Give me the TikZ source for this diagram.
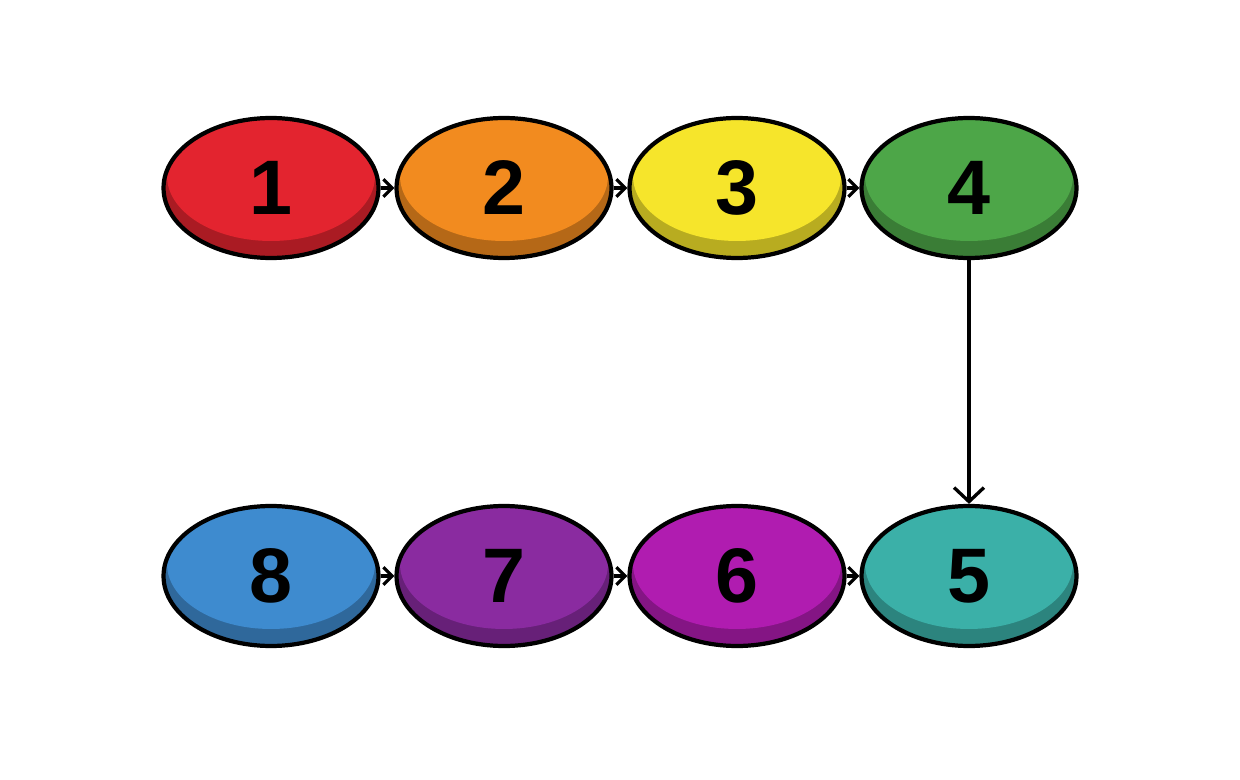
\documentclass[tikz,border=0pt]{standalone}
\usepackage{fontspec}
\setmainfont{Liberation Sans}
\usetikzlibrary{arrows.meta,shapes.geometric}
\definecolor{cred}{HTML}{E3242F}
\definecolor{corange}{HTML}{F28B1F}
\definecolor{cyellow}{HTML}{F6E52B}
\definecolor{cgreen}{HTML}{4DA648}
\definecolor{cteal}{HTML}{3BB0A8}
\definecolor{cmagenta}{HTML}{B01CB0}
\definecolor{cpurple}{HTML}{8A2BA0}
\definecolor{cblue}{HTML}{3E8BCF}
\tikzset{
  oval/.style={ellipse, draw=black, line width=2.4pt, minimum width=4.3cm, minimum height=2.8cm, inner sep=0pt,
    fill=#1!75!black,
    path picture={\fill[#1] ([yshift=0.24cm]path picture bounding box.center) ellipse [x radius=2.08cm, y radius=1.3cm];},
    font=\fontsize{44}{44}\selectfont\bfseries},
  link/.style={line width=1.8pt, -{Straight Barb[length=5pt,width=10pt,line width=1.8pt]}},
  vlink/.style={line width=1.9pt, -{Straight Barb[length=8pt,width=17pt,line width=1.9pt]}}
}
\begin{document}
\begin{tikzpicture}[x=0.02cm,y=-0.02cm]
\useasboundingbox[fill=white] (0,0) rectangle (1240,780);
\node[oval=cred]     (n1) at (271,188) {1};
\node[oval=corange]  (n2) at (504,188) {2};
\node[oval=cyellow]  (n3) at (737,188) {3};
\node[oval=cgreen]   (n4) at (969,188) {4};
\node[oval=cblue]    (n8) at (271,576) {8};
\node[oval=cpurple]  (n7) at (504,576) {7};
\node[oval=cmagenta] (n6) at (737,576) {6};
\node[oval=cteal]    (n5) at (969,576) {5};
\draw[link] (n1) -- (n2);
\draw[link] (n2) -- (n3);
\draw[link] (n3) -- (n4);
\draw[link] (n8) -- (n7);
\draw[link] (n7) -- (n6);
\draw[link] (n6) -- (n5);
\draw[vlink] (n4) -- (n5);
\end{tikzpicture}
\end{document}
